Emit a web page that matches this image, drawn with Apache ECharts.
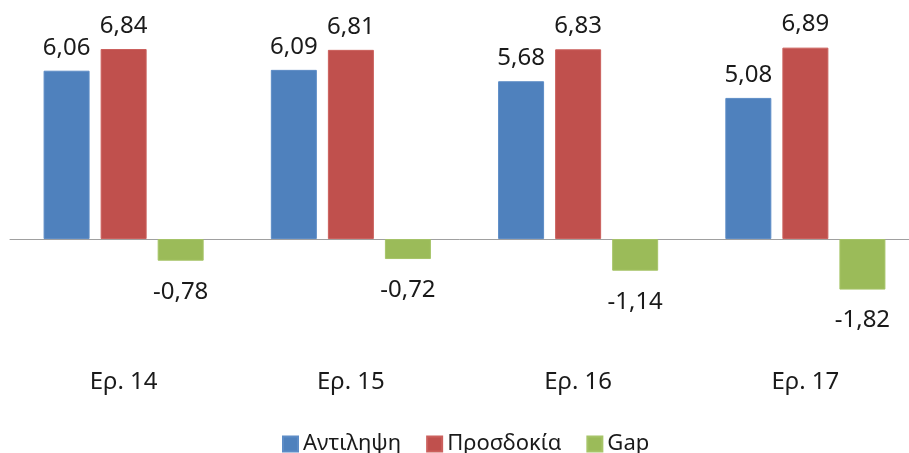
<!DOCTYPE html>
<html>
<head>
<meta charset="utf-8">
<script src="https://cdn.jsdelivr.net/npm/echarts@6/dist/echarts.min.js"></script>
<style>
  html, body { margin: 0; padding: 0; background: #fff; }
  #chart { width: 909px; height: 453px; }
</style>
</head>
<body>
<div id="chart"></div>
<script>
// Survey waves
const categories = ['Ερ. 14', 'Ερ. 15', 'Ερ. 16', 'Ερ. 17'];
// Perceived score, expectation score and the gap between them
const perception = [6.06, 6.09, 5.68, 5.08];
const expectation = [6.84, 6.81, 6.83, 6.89];
const gap = [-0.78, -0.72, -1.14, -1.82];

const FONT = '"Noto Sans", "DejaVu Sans", sans-serif';
const fmt = p => p.value.toFixed(2).replace('.', ',');

function barSeries(name, data, color, border, pos, dist) {
  return {
    name: name,
    type: 'bar',
    data: data,
    barWidth: 46,
    barGap: '24%',
    itemStyle: { color: color, borderColor: border, borderWidth: 1 },
    label: {
      show: true,
      position: pos,
      distance: dist,
      formatter: fmt,
      color: '#1a1a1a',
      fontFamily: FONT,
      fontSize: 24
    }
  };
}

const chart = echarts.init(document.getElementById('chart'));
chart.setOption({
  backgroundColor: '#ffffff',
  animation: false,
  textStyle: { fontFamily: FONT },
  // the plot area runs a little past the right edge of the canvas
  grid: { left: 10, width: 909, top: 16.8, height: 277.8, outerBoundsMode: 'none', containLabel: false },
  legend: {
    left: 277,
    top: 428,
    itemWidth: 15,
    itemHeight: 15,
    itemGap: 25,
    icon: 'rect',
    textStyle: { fontFamily: FONT, fontSize: 22, color: '#1a1a1a' },
    data: ['Αντιληψη', 'Προσδοκία', 'Gap']
  },
  xAxis: {
    type: 'category',
    data: categories,
    axisLine: { onZero: true, lineStyle: { color: '#a0a0a0', width: 1 } },
    axisTick: { show: false },
    axisLabel: { margin: 76, fontFamily: FONT, fontSize: 24, color: '#1a1a1a' }
  },
  yAxis: {
    type: 'value',
    min: -2,
    max: 8,
    interval: 1,
    show: false,
    splitLine: { show: false }
  },
  series: [
    barSeries('Αντιληψη', perception, '#4F81BD', '#5d8cc6', 'top', 11),
    barSeries('Προσδοκία', expectation, '#C0504D', '#cb605d', 'top', 11),
    barSeries('Gap', gap, '#9BBB59', '#a6c468', 'bottom', 19)
  ]
});
</script>
</body>
</html>
